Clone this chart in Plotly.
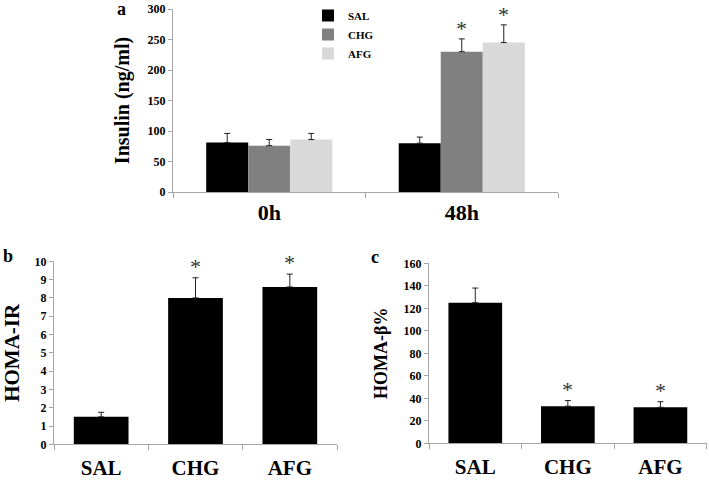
import plotly.graph_objects as go

W, H = 709, 482
SERIF = "Liberation Serif"

# ---- data ----
groups = ["SAL", "CHG", "AFG"]
times = ["0h", "48h"]
insulin_sal = [81, 80]
insulin_sal_err = [15, 10]
insulin_chg = [76, 230]
insulin_chg_err = [10, 21]
insulin_afg = [86, 245]
insulin_afg_err = [10, 29]
insulin_colors = ["#000000", "#808080", "#d9d9d9"]
insulin_stars = {"SAL": [False, False], "CHG": [False, True], "AFG": [False, True]}

homa_ir = [1.5, 8.0, 8.6]
homa_ir_err = [0.25, 1.1, 0.7]
homa_ir_stars = [False, True, True]

homa_beta = [125, 33, 32]
homa_beta_err = [13, 5, 5]
homa_beta_stars = [False, True, True]


def px(x):
    return x / W


def py(y):
    return 1 - y / H


AXIS_GREY = "#a6a6a6"
ERR_COL = "#222222"

fig = go.Figure()

ins_vals = {"SAL": (insulin_sal, insulin_sal_err),
            "CHG": (insulin_chg, insulin_chg_err),
            "AFG": (insulin_afg, insulin_afg_err)}

for g, col in zip(groups, insulin_colors):
    v, e = ins_vals[g]
    fig.add_trace(go.Bar(
        x=times, y=v, name=g, marker=dict(color=col, line=dict(width=0)),
        offsetgroup=g, xaxis="x", yaxis="y",
        error_y=dict(type="data", array=e, arrayminus=[0] * len(e), symmetric=False,
                     color=ERR_COL, thickness=1, width=3),
    ))

fig.add_trace(go.Bar(
    x=groups, y=homa_ir, name="HOMA-IR", showlegend=False, width=0.58,
    marker=dict(color="#000000", line=dict(width=0)), xaxis="x2", yaxis="y2",
    error_y=dict(type="data", array=homa_ir_err, arrayminus=[0] * 3, symmetric=False,
                 color=ERR_COL, thickness=1, width=3),
))
fig.add_trace(go.Bar(
    x=groups, y=homa_beta, name="HOMA-β%", showlegend=False, width=0.58,
    marker=dict(color="#000000", line=dict(width=0)), xaxis="x3", yaxis="y3",
    error_y=dict(type="data", array=homa_beta_err, arrayminus=[0] * 3, symmetric=False,
                 color=ERR_COL, thickness=1, width=3),
))

annotations = []
star_font = dict(family=SERIF, size=22, color="#333333")
bar_px = 42
for gi, g in enumerate(groups):
    v, e = ins_vals[g]
    for ti, t in enumerate(times):
        if insulin_stars[g][ti]:
            annotations.append(dict(x=t, y=v[ti] + e[ti], xref="x", yref="y", text="*",
                                    showarrow=False, yanchor="bottom", xshift=(gi - 1) * bar_px,
                                    yshift=-4, font=star_font))
for i, g in enumerate(groups):
    if homa_ir_stars[i]:
        annotations.append(dict(x=g, y=homa_ir[i] + homa_ir_err[i], xref="x2", yref="y2", text="*",
                                showarrow=False, yanchor="bottom", yshift=-3, font=star_font))
    if homa_beta_stars[i]:
        annotations.append(dict(x=g, y=homa_beta[i] + homa_beta_err[i], xref="x3", yref="y3", text="*",
                                showarrow=False, yanchor="bottom", yshift=-3, font=star_font))

panel_font = dict(family=SERIF, size=18, color="#000000", weight="bold")
for lab, (xx, yy) in {"a": (121, 9), "b": (8, 256), "c": (375, 257)}.items():
    annotations.append(dict(x=px(xx), y=py(yy), xref="paper", yref="paper", text=lab,
                            showarrow=False, xanchor="center", yanchor="middle", font=panel_font))

tick_font = dict(family=SERIF, size=12, color="#000000", weight="bold")
cat_font = dict(family=SERIF, size=22, color="#000000", weight="bold")
cat_font_b = dict(family=SERIF, size=21, color="#000000", weight="bold")


def title_font(size):
    return dict(family=SERIF, size=size, color="#000000", weight="bold")


def xax(dom, anchor, standoff, font):
    return dict(domain=dom, anchor=anchor, type="category", showline=True, linecolor=AXIS_GREY,
                linewidth=1, ticks="outside", tickson="boundaries", ticklen=5, tickcolor=AXIS_GREY,
                tickfont=font, ticklabelstandoff=standoff, showgrid=False, zeroline=False,
                automargin=False, fixedrange=True)


def yax(dom, anchor, rng, dtick, title, standoff, tsize):
    return dict(domain=dom, anchor=anchor, range=rng, dtick=dtick, showline=True, linecolor=AXIS_GREY,
                linewidth=1, ticks="outside", ticklen=4, tickcolor=AXIS_GREY, tickfont=tick_font,
                showgrid=False, zeroline=False, automargin=False,
                title=dict(text=title, font=title_font(tsize), standoff=standoff), fixedrange=True)


fig.update_layout(
    template="none",
    width=W, height=H, margin=dict(l=0, r=0, t=0, b=0, autoexpand=False),
    font=dict(family=SERIF, color="#000000"),
    paper_bgcolor="white", plot_bgcolor="white",
    barmode="group", bargap=0.345, bargroupgap=0,
    xaxis=xax([px(173), px(558)], "y", 1, cat_font),
    yaxis=yax([py(192), py(9)], "x", [0, 300], 50, "Insulin (ng/ml)", 12, 20),
    xaxis2=xax([px(54), px(337)], "y2", 4, cat_font_b),
    yaxis2=yax([py(444.3), py(261.3)], "x2", [0, 10], 1, "HOMA-IR", 10, 21),
    xaxis3=xax([px(429), px(706.7)], "y3", 4, cat_font_b),
    yaxis3=yax([py(443.3), py(263.3)], "x3", [0, 160], 20, "HOMA-β%", 11, 18),
    legend=dict(x=px(308), y=py(1), xanchor="left", yanchor="top", bgcolor="rgba(0,0,0,0)",
                font=dict(family=SERIF, size=11, color="#000000", weight="bold"),
                itemwidth=30, tracegroupgap=0),
    annotations=annotations,
    showlegend=True,
)

fig.write_html("out.html", config={"displayModeBar": False},
               post_script="document.body.style.margin='0';")
